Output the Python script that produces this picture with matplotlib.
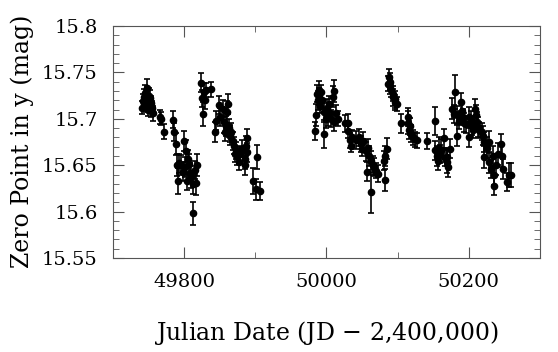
import numpy as np
import matplotlib.pyplot as plt
from matplotlib.ticker import MultipleLocator

# Julian Date - 2,400,000
jd = np.array([
    49741, 49742, 49743, 49744, 49745, 49746, 49747, 49747.5, 49748, 49749,
    49750, 49751, 49752, 49753, 49754, 49755, 49756,
    49766, 49768, 49771, 49785, 49786, 49789, 49790, 49791, 49793, 49796,
    49798, 49800, 49801, 49803, 49803.5, 49805, 49807, 49808, 49810, 49812,
    49813, 49815, 49816, 49818,
    49823, 49825, 49826, 49828, 49830, 49831, 49838, 49844, 49845, 49849,
    49851, 49854, 49856, 49858, 49859, 49860, 49862, 49863, 49864, 49865,
    49866, 49868, 49870, 49871, 49873, 49875, 49877, 49879, 49882, 49885,
    49886, 49887, 49888, 49889, 49897, 49901, 49902, 49907,
    49984, 49985, 49987, 49988, 49989, 49990, 49991, 49993, 49994, 49996,
    49997, 49999, 50001, 50002, 50003, 50005, 50007, 50009, 50010, 50011,
    50013, 50016, 50026, 50030, 50031, 50033, 50035, 50036, 50041, 50046,
    50048, 50050, 50052, 50055, 50057, 50058, 50060, 50062, 50063, 50065,
    50067, 50069, 50073, 50081, 50082, 50083, 50085, 50087, 50088, 50089,
    50090, 50091, 50093, 50094, 50096, 50097, 50099, 50105, 50114, 50115,
    50116, 50117, 50119, 50121, 50124, 50127, 50141,
    50152, 50152.5, 50155, 50157, 50158, 50160, 50161, 50165, 50166, 50169,
    50170, 50171, 50174, 50177, 50180, 50181, 50183, 50184, 50186, 50189,
    50190, 50192, 50194, 50196, 50200, 50201, 50203, 50205, 50206, 50209,
    50210, 50212, 50213, 50215, 50218, 50220, 50221, 50222, 50225, 50228,
    50229, 50232, 50234, 50235, 50236, 50238, 50241, 50245, 50247, 50248,
    50254, 50256, 50260,
])

# zero point (mag)
zp = np.array([
    15.712, 15.719, 15.716, 15.724, 15.728, 15.714, 15.721, 15.733, 15.718, 15.710,
    15.725, 15.715, 15.722, 15.709, 15.717, 15.712, 15.706,
    15.702, 15.700, 15.686, 15.699, 15.686, 15.673, 15.650, 15.633, 15.652, 15.650,
    15.643, 15.676, 15.648, 15.665, 15.633, 15.657, 15.651, 15.642, 15.637, 15.598,
    15.630, 15.645, 15.631, 15.650,
    15.739, 15.722, 15.705, 15.729, 15.720, 15.731, 15.732, 15.686, 15.698, 15.715,
    15.702, 15.711, 15.697, 15.686, 15.692, 15.707, 15.716, 15.690, 15.684, 15.682,
    15.686, 15.676, 15.671, 15.662, 15.666, 15.660, 15.653, 15.662, 15.668, 15.657,
    15.650, 15.671, 15.679, 15.664, 15.633, 15.624, 15.659, 15.622,
    15.687, 15.704, 15.727, 15.720, 15.731, 15.724, 15.714, 15.729, 15.720, 15.684,
    15.707, 15.700, 15.712, 15.702, 15.716, 15.706, 15.700, 15.724, 15.730, 15.697,
    15.706, 15.700, 15.695, 15.696, 15.687, 15.677, 15.671, 15.680, 15.677, 15.680,
    15.673, 15.668, 15.676, 15.665, 15.643, 15.669, 15.660, 15.621, 15.655, 15.650,
    15.648, 15.644, 15.641, 15.655, 15.634, 15.660, 15.668, 15.738, 15.745, 15.735,
    15.740, 15.731, 15.727, 15.723, 15.721, 15.718, 15.716, 15.695, 15.702, 15.696,
    15.688, 15.692, 15.684, 15.680, 15.678, 15.677, 15.676,
    15.698, 15.666, 15.660, 15.655, 15.669, 15.662, 15.666, 15.679, 15.658, 15.659,
    15.654, 15.648, 15.668, 15.711, 15.705, 15.729, 15.682, 15.704, 15.698, 15.718,
    15.708, 15.702, 15.696, 15.694, 15.680, 15.702, 15.699, 15.693, 15.688, 15.711,
    15.704, 15.697, 15.691, 15.688, 15.686, 15.682, 15.675, 15.659, 15.669, 15.675,
    15.653, 15.646, 15.660, 15.639, 15.628, 15.650, 15.662, 15.673, 15.660, 15.646,
    15.632, 15.639, 15.639,
])

# 1-sigma errors (mag)
err = np.array([
    0.007, 0.008, 0.007, 0.008, 0.009, 0.007, 0.008, 0.010, 0.008, 0.007,
    0.008, 0.008, 0.009, 0.007, 0.008, 0.007, 0.008,
    0.008, 0.007, 0.008, 0.009, 0.010, 0.012, 0.012, 0.014, 0.010, 0.011,
    0.010, 0.011, 0.011, 0.012, 0.010, 0.009, 0.011, 0.010, 0.012, 0.012,
    0.011, 0.010, 0.013, 0.012,
    0.010, 0.009, 0.013, 0.010, 0.009, 0.008, 0.008, 0.011, 0.010, 0.010,
    0.010, 0.009, 0.012, 0.010, 0.011, 0.012, 0.011, 0.010, 0.009, 0.010,
    0.009, 0.010, 0.009, 0.008, 0.009, 0.010, 0.008, 0.009, 0.009, 0.011,
    0.010, 0.011, 0.010, 0.010, 0.014, 0.011, 0.013, 0.010,
    0.010, 0.012, 0.009, 0.010, 0.010, 0.009, 0.008, 0.008, 0.009, 0.015,
    0.010, 0.010, 0.009, 0.010, 0.009, 0.008, 0.009, 0.011, 0.012, 0.010,
    0.009, 0.008, 0.009, 0.009, 0.008, 0.008, 0.007, 0.008, 0.010, 0.009,
    0.009, 0.008, 0.010, 0.010, 0.010, 0.009, 0.011, 0.022, 0.010, 0.010,
    0.010, 0.008, 0.009, 0.010, 0.012, 0.011, 0.011, 0.008, 0.009, 0.008,
    0.009, 0.008, 0.008, 0.009, 0.009, 0.008, 0.008, 0.010, 0.010, 0.012,
    0.010, 0.009, 0.009, 0.008, 0.008, 0.008, 0.009,
    0.015, 0.010, 0.011, 0.010, 0.011, 0.010, 0.012, 0.010, 0.009, 0.010,
    0.012, 0.011, 0.010, 0.011, 0.010, 0.018, 0.011, 0.010, 0.009, 0.010,
    0.009, 0.009, 0.010, 0.009, 0.010, 0.011, 0.009, 0.010, 0.009, 0.010,
    0.011, 0.010, 0.011, 0.009, 0.009, 0.010, 0.011, 0.012, 0.011, 0.012,
    0.011, 0.010, 0.011, 0.010, 0.010, 0.010, 0.012, 0.011, 0.012, 0.011,
    0.010, 0.013, 0.013,
])

plt.rcParams['font.family'] = 'DejaVu Serif'

fig = plt.figure(figsize=(5.58, 3.52), dpi=100)
ax = fig.add_axes([0.2025, 0.267, 0.765, 0.659])

ax.errorbar(jd, zp, yerr=err, fmt='o', color='black', ms=4.5,
            elinewidth=1.2, capsize=2.5, capthick=1.2)

ax.set_xlim(49700, 50300)
ax.set_ylim(15.55, 15.8)
ax.xaxis.set_major_locator(MultipleLocator(200))
ax.xaxis.set_minor_locator(MultipleLocator(100))
ax.yaxis.set_minor_locator(MultipleLocator(0.01))
ax.set_yticks([15.55, 15.6, 15.65, 15.7, 15.75, 15.8])
ax.set_yticklabels(['15.55', '15.6', '15.65', '15.7', '15.75', '15.8'])
ax.tick_params(which='both', direction='in', top=True, right=True,
               labelsize=14, pad=11, color='#555555')
ax.tick_params(which='major', length=8)
ax.tick_params(which='minor', length=4)
for s in ax.spines.values():
    s.set_color('#555555')

ax.set_xlabel('Julian Date (JD $-$ 2,400,000)', fontsize=17, va='center')
ax.xaxis.set_label_coords(326 / 558, 19 / 352, transform=fig.transFigure)
ax.set_ylabel('Zero Point in y (mag)', fontsize=17, va='center')
ax.yaxis.set_label_coords(22 / 558, 211 / 352, transform=fig.transFigure)

plt.savefig('out.png', dpi=100)
